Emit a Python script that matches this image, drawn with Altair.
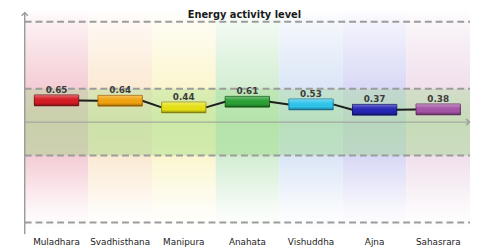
import altair as alt
import pandas as pd

# ---- data ----
chakras = ["Muladhara", "Svadhisthana", "Manipura", "Anahata", "Vishuddha", "Ajna", "Sahasrara"]
values = [0.65, 0.64, 0.44, 0.61, 0.53, 0.37, 0.38]
bar_colors = ["#d41a22", "#f2a20e", "#e6e014", "#2aa034", "#2ec4ec", "#2424b4", "#a454a4"]
bar_edges = ["#7a0c10", "#a86a06", "#9a9408", "#146018", "#1480a8", "#10106a", "#6a2a6a"]
band_colors = ["#f4ccd5", "#fbe9d2", "#fbf6cf", "#d3edd3", "#dae5f6", "#d8d8f6", "#f0dfec"]
grid_levels = [3, 1, -1, -3]
title_text = "Energy activity level"

# ---- geometry / style ----
W, H = 453, 224
YMIN, YMAX = -3.235, 3.353
BAR_HALF_W = 0.348
BAR_HALF_H = 0.16
GRAY = "#9c9c9c"


def blend(c, t):
    r, g, b = int(c[1:3], 16), int(c[3:5], 16), int(c[5:7], 16)
    r = round(r + (255 - r) * t)
    g = round(g + (255 - g) * t)
    b = round(b + (255 - b) * t)
    return "#%02x%02x%02x" % (r, g, b)


df = pd.DataFrame({"chakra": chakras, "idx": list(range(len(chakras))), "value": values,
                   "fill": bar_colors, "edge": bar_edges})
df["x0"] = df["idx"] - 0.5
df["x1"] = df["idx"] + 0.5
df["bx0"] = df["idx"] - BAR_HALF_W
df["bx1"] = df["idx"] + BAR_HALF_W
df["by0"] = df["value"] + BAR_HALF_H
df["by1"] = df["value"] - BAR_HALF_H

links = df.copy()
links["xs"] = links["idx"] + BAR_HALF_W
links["xe"] = links["idx"].shift(-1) - BAR_HALF_W
links["next_value"] = links["value"].shift(-1)
links = links.dropna(subset=["xe"])

xscale = alt.Scale(domain=[-0.5, 6.5], nice=False, zero=False)
yscale = alt.Scale(domain=[YMIN, YMAX], nice=False, zero=False)

layers = []

# background bands with vertical gradient
for i, c in enumerate(band_colors):
    grad = alt.LinearGradient(
        gradient="linear", x1=0, x2=0, y1=0, y2=1,
        stops=[
            alt.GradientStop(offset=0, color="#ffffff"),
            alt.GradientStop(offset=0.06, color=blend(c, 0.7)),
            alt.GradientStop(offset=0.36, color=c),
            alt.GradientStop(offset=0.66, color=c),
            alt.GradientStop(offset=0.9, color=blend(c, 0.8)),
            alt.GradientStop(offset=1, color="#ffffff"),
        ],
    )
    layers.append(
        alt.Chart(df.iloc[[i]]).mark_rect(fill=grad).encode(
            x=alt.X("x0:Q", scale=xscale, axis=None),
            x2="x1:Q",
            y=alt.value(0),
            y2=alt.value(H),
        )
    )

# green middle zone between +1 and -1
zone_grad = alt.LinearGradient(
    gradient="linear", x1=0, x2=0, y1=0, y2=1,
    stops=[
        alt.GradientStop(offset=0, color="rgba(140,214,112,0.28)"),
        alt.GradientStop(offset=0.5, color="rgba(140,214,112,0.42)"),
        alt.GradientStop(offset=1, color="rgba(140,214,112,0.36)"),
    ],
)
zone = pd.DataFrame({"top": [grid_levels[1]], "bot": [grid_levels[2]]})
layers.append(
    alt.Chart(zone).mark_rect(fill=zone_grad).encode(
        x=alt.value(0), x2=alt.value(W),
        y=alt.Y("top:Q", scale=yscale, axis=None), y2="bot:Q",
    )
)

# dashed grid lines
grid_df = pd.DataFrame({"level": grid_levels})
layers.append(
    alt.Chart(grid_df).mark_rule(stroke=GRAY, strokeWidth=2, strokeDash=[7, 4]).encode(
        y=alt.Y("level:Q", scale=yscale, axis=None),
        x=alt.value(0), x2=alt.value(W),
    )
)

# zero axis line and y axis line
layers.append(
    alt.Chart(pd.DataFrame({"z": [0]})).mark_rule(stroke=GRAY, strokeWidth=1).encode(
        y=alt.Y("z:Q", scale=yscale, axis=None), x=alt.value(0), x2=alt.value(W)
    )
)
layers.append(
    alt.Chart(pd.DataFrame({"z": [0]})).mark_rule(stroke=GRAY, strokeWidth=1.5).encode(
        x=alt.value(0), y=alt.value(2), y2=alt.value(H + 4)
    )
)
# arrow heads
layers.append(
    alt.Chart(pd.DataFrame({"z": [0]})).mark_point(
        shape="M-1,0.6L0,-0.4L1,0.6", filled=False, stroke=GRAY, strokeWidth=1.5, size=40, opacity=1
    ).encode(x=alt.value(0), y=alt.value(4))
)
layers.append(
    alt.Chart(pd.DataFrame({"z": [0]})).mark_point(
        shape="M-0.6,-1L0.4,0L-0.6,1", filled=False, stroke=GRAY, strokeWidth=1.5, size=40, opacity=1
    ).encode(x=alt.value(W - 2), y=alt.Y("z:Q", scale=yscale, axis=None))
)

# connecting lines
layers.append(
    alt.Chart(links).mark_rule(stroke="#1e1e1e", strokeWidth=2).encode(
        x=alt.X("xs:Q", scale=xscale, axis=None), x2="xe:Q",
        y=alt.Y("value:Q", scale=yscale, axis=None), y2="next_value:Q",
    )
)

# bars
layers.append(
    alt.Chart(df).mark_rect(strokeWidth=1).encode(
        x=alt.X("bx0:Q", scale=xscale, axis=None), x2="bx1:Q",
        y=alt.Y("by0:Q", scale=yscale, axis=None), y2="by1:Q",
        fill=alt.Fill("fill:N", scale=None),
        stroke=alt.Stroke("edge:N", scale=None),
    )
)
shine = alt.LinearGradient(
    gradient="linear", x1=0, x2=0, y1=0, y2=1,
    stops=[
        alt.GradientStop(offset=0, color="rgba(255,255,255,0.35)"),
        alt.GradientStop(offset=0.35, color="rgba(255,255,255,0.05)"),
        alt.GradientStop(offset=0.7, color="rgba(0,0,0,0)"),
        alt.GradientStop(offset=1, color="rgba(0,0,0,0.35)"),
    ],
)
layers.append(
    alt.Chart(df).mark_rect(fill=shine).encode(
        x=alt.X("bx0:Q", scale=xscale, axis=None), x2="bx1:Q",
        y=alt.Y("by0:Q", scale=yscale, axis=None), y2="by1:Q",
    )
)

# value labels
layers.append(
    alt.Chart(df).mark_text(font="DejaVu Sans", fontSize=9, fontWeight="bold", color="#3c3c3c",
                            baseline="alphabetic", dy=-7.5).encode(
        x=alt.X("idx:Q", scale=xscale, axis=None),
        y=alt.Y("value:Q", scale=yscale, axis=None),
        text=alt.Text("value:Q", format=".2f"),
    )
)

# category labels
layers.append(
    alt.Chart(df).mark_text(font="DejaVu Sans", fontSize=9, color="#222222", baseline="middle").encode(
        x=alt.X("idx:Q", scale=xscale, axis=None),
        y=alt.value(H + 12),
        text="chakra:N",
    )
)

# title
layers.append(
    alt.Chart(pd.DataFrame({"t": [title_text]})).mark_text(
        font="DejaVu Sans", fontSize=10, fontWeight="bold", color="#1a1a1a", baseline="alphabetic"
    ).encode(x=alt.value(W / 2 - 3), y=alt.value(8), text="t:N")
)

chart = alt.layer(*layers).properties(
    width=W, height=H,
    padding={"left": 17, "top": 0, "right": 3, "bottom": 18},
    autosize=alt.AutoSizeParams(type="none"),
).configure_view(stroke=None)

chart.save("out.html", embed_options={"renderer": "svg", "actions": False})
